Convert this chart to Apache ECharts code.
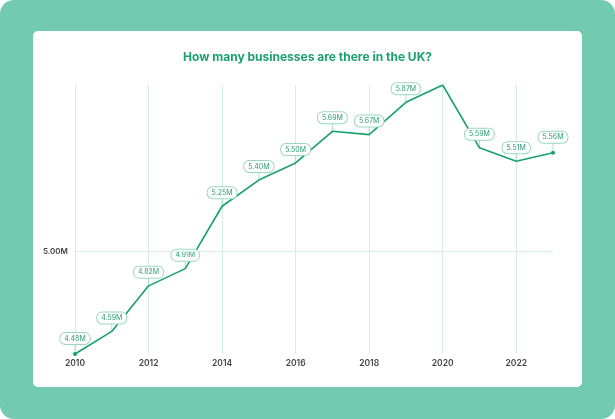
<!DOCTYPE html>
<html><head><meta charset="utf-8">
<script src="https://cdn.jsdelivr.net/npm/echarts@6/dist/echarts.min.js"></script>
<style>
html,body{margin:0;padding:0;background:#fff;}
#bg{position:absolute;left:0;top:0;width:615px;height:419px;background:#72cbb0;border-radius:14px;}
#card{position:absolute;left:33px;top:31px;width:549px;height:356px;background:#fff;border-radius:5px;}
#chart{position:absolute;left:0;top:0;width:615px;height:419px;}
</style></head>
<body>
<div id="bg"></div><div id="card"></div>
<div id="chart"></div>
<script>
var years = ['2010','2011','2012','2013','2014','2015','2016','2017','2018','2019','2020','2021','2022','2023'];
var businesses = [4.48, 4.59, 4.82, 4.91, 5.25, 5.40, 5.50, 5.69, 5.67, 5.87, 5.98, 5.59, 5.51, 5.56];
var hiddenLabelYears = ['2020'];
var refValue = 5.00;
var refLabel = '5.00M';

var green = '#18a06c';
var lineData = businesses.map(function(v, i){
  var last = i === 0 || i === businesses.length - 1;
  var hide = hiddenLabelYears.indexOf(years[i]) >= 0;
  return {value: v, symbolSize: last ? 4 : 0, label: {show: !hide}};
});
var tickData = businesses.map(function(v, i){
  var hide = hiddenLabelYears.indexOf(years[i]) >= 0;
  return hide ? null : v;
});

var chart = echarts.init(document.getElementById('chart'), null, {renderer:'canvas'});
chart.setOption({
  backgroundColor: 'transparent',
  animation: false,
  title: {
    text: 'How many businesses are there in the UK?',
    left: 'center', top: 46,
    textStyle: {fontFamily: 'Inter', fontSize: 12, fontWeight: 'bold', color: '#1ba16f'}
  },
  grid: {left: 75, right: 62, top: 85, bottom: 65},
  xAxis: {
    type: 'category', data: years, boundaryGap: false,
    axisLine: {show: false}, axisTick: {show: false},
    axisLabel: {interval: 1, margin: 5, fontFamily: 'Inter', fontSize: 8.5, fontWeight: 600, color: '#444'},
    splitLine: {show: true, interval: 1, lineStyle: {color: '#d3eee4', width: 1}}
  },
  yAxis: {
    type: 'log', logBase: 10, min: 4.48, max: 5.98,
    axisLine: {show: false}, axisTick: {show: false},
    axisLabel: {show: false}, splitLine: {show: false}
  },
  series: [
    {
      type: 'scatter', data: tickData, symbol: 'rect', symbolSize: [1, 9], symbolOffset: [0, -4.5],
      itemStyle: {color: '#9ad7bf'}, z: 3, silent: true
    },
    {
      type: 'line', data: lineData, symbol: 'circle', showSymbol: true,
      lineStyle: {color: green, width: 1.6}, itemStyle: {color: green}, z: 4,
      label: {
        show: true, position: 'top', distance: 8,
        formatter: function(p){ return p.value.toFixed(2) + 'M'; },
        fontFamily: 'Inter', fontSize: 7, color: '#2a9d73',
        backgroundColor: '#fff', borderColor: '#9ad7bf', borderWidth: 1, borderRadius: 5,
        padding: [2, 4, 2, 4]
      },
      markLine: {
        silent: true, symbol: 'none',
        lineStyle: {color: '#d3eee4', width: 1, type: 'solid'},
        label: {show: true, position: 'start', formatter: refLabel, fontFamily: 'Inter', fontSize: 8, fontWeight: 600, color: '#444', distance: 7},
        data: [{yAxis: refValue}]
      }
    }
  ]
});
</script>
</body></html>
